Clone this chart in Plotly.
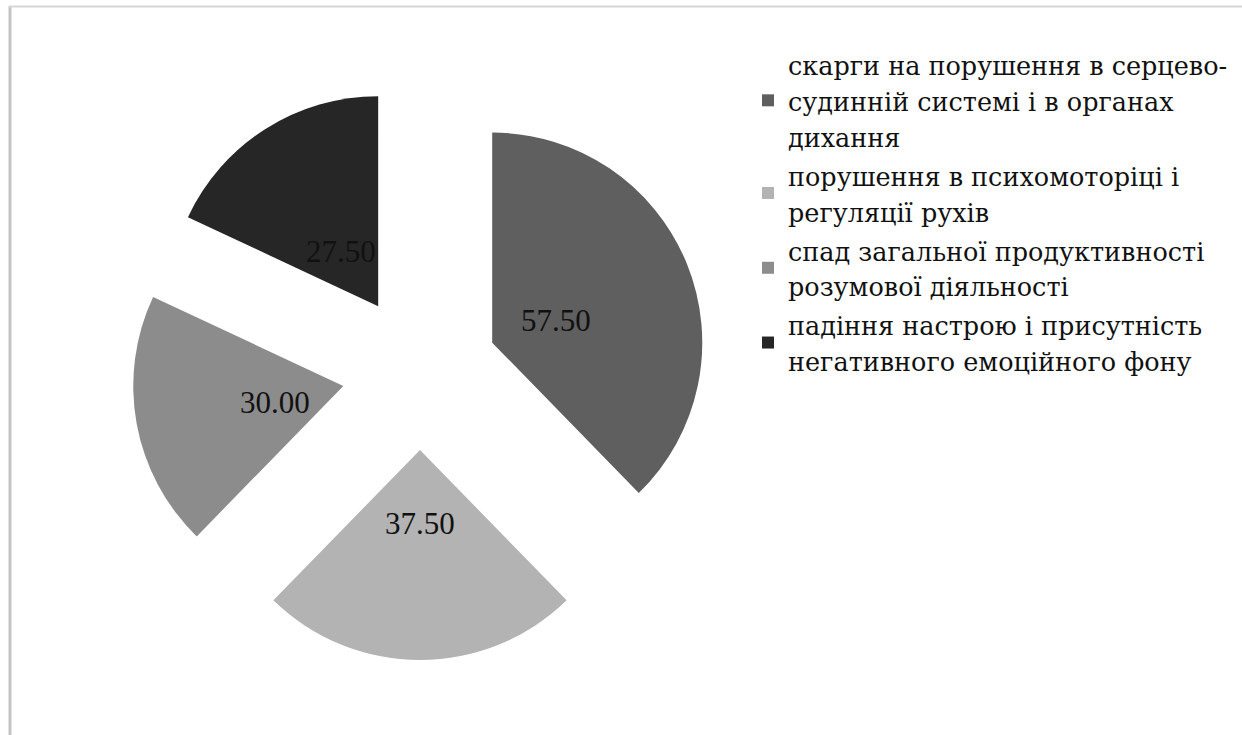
import numpy as np
import plotly.graph_objects as go

# Complaint categories and their scores
categories = [
    "скарги на порушення в серцево-<br>судинній системі і в органах<br>дихання",
    "порушення в психомоторіці і<br>регуляції рухів",
    "спад загальної продуктивності<br>розумової діяльності",
    "падіння настрою і присутність<br>негативного емоційного фону",
]
values = [57.50, 37.50, 30.00, 27.50]
colors = ["#5f5f5f", "#b3b3b3", "#8c8c8c", "#262626"]

W, H = 1242, 735
LABEL_FONT = "Liberation Serif, Times New Roman, serif"
LEGEND_FONT = "DejaVu Serif, serif"

PULL = 0.371
DOM_X = [132 / W, 708 / W]
DOM_Y = [(H - 660) / H, (H - 84) / H]

# Legend glyphs are set a bit smaller than the legend font so the
# lines keep a looser line spacing
legend_names = [
    "<br>".join(f'<span style="font-size:25.5px">{part}</span>' for part in c.split("<br>"))
    for c in categories
]

fig = go.Figure(
    go.Pie(
        labels=legend_names,
        values=values,
        sort=False,
        direction="clockwise",
        rotation=0,
        pull=[PULL] * len(values),
        marker=dict(colors=colors, line=dict(width=0)),
        textinfo="none",
        domain=dict(x=DOM_X, y=DOM_Y),
        hoverinfo="value",
    )
)

# Value labels: placed along each slice's mid-angle, a third of the
# radius out from the (pulled) slice apex, using the pie's own geometry
dom_w = (DOM_X[1] - DOM_X[0]) * W
dom_h = (DOM_Y[1] - DOM_Y[0]) * H
cx = (DOM_X[0] + DOM_X[1]) / 2 * W
cy = H - (DOM_Y[0] + DOM_Y[1]) / 2 * H
radius = min(dom_w, dom_h) / (2 + 2 * PULL)
vals = np.array(values)
cum = np.cumsum(vals) - vals / 2
mid = 2 * np.pi * cum / vals.sum()
dist = radius * (PULL + 0.33)
for v, a in zip(values, mid):
    px = cx + dist * np.sin(a)
    py = cy - dist * np.cos(a)
    fig.add_annotation(
        x=px / W, y=(H - py) / H, xref="paper", yref="paper",
        text=f"{v:.2f}", showarrow=False,
        xanchor="center", yanchor="middle", yshift=-4,
        font=dict(family=LABEL_FONT, size=31, color="#111111"),
    )

# Chart-area frame (left and top edges visible)
fig.add_shape(type="line", xref="paper", yref="paper",
              x0=10 / W, x1=10 / W, y0=-0.05, y1=1 - 6 / H,
              line=dict(color="#c4c4c4", width=3))
fig.add_shape(type="line", xref="paper", yref="paper",
              x0=9 / W, x1=1.05, y0=1 - 6.5 / H, y1=1 - 6.5 / H,
              line=dict(color="#d6d6d6", width=2))

fig.update_layout(
    width=W,
    height=H,
    margin=dict(l=0, r=0, t=0, b=0, autoexpand=False),
    paper_bgcolor="white",
    plot_bgcolor="white",
    showlegend=True,
    legend=dict(
        x=748 / W,
        xanchor="left",
        y=1 - 40 / H,
        yanchor="top",
        font=dict(family=LEGEND_FONT, size=27.6, color="#111111"),
        bgcolor="rgba(0,0,0,0)",
        traceorder="normal",
    ),
)

fig.write_html("out.html")
